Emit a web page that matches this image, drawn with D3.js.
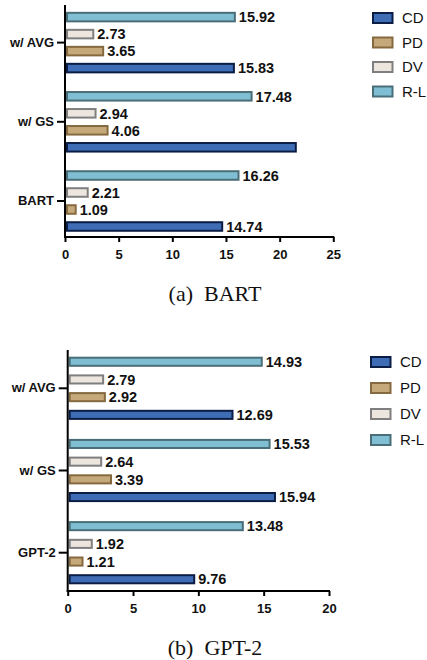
<!DOCTYPE html>
<html>
<head>
<meta charset="utf-8">
<script src="https://cdn.jsdelivr.net/npm/d3@7"></script>
<style>
  body { margin: 0; background: #fff; }
  text { font-family: 'Liberation Sans', Arial, sans-serif; }
  .caption { font-family: 'Liberation Serif', 'Times New Roman', serif; white-space: pre; }
</style>
</head>
<body>
<div id="chart"></div>
<script>
// Data
const series = ['CD', 'PD', 'DV', 'R-L']
const barOrder = ['R-L', 'DV', 'PD', 'CD'] // top to bottom inside a group

const bartGroups = ['w/ AVG', 'w/ GS', 'BART']
const bartCD = [15.83, 21.6, 14.74]
const bartPD = [3.65, 4.06, 1.09]
const bartDV = [2.73, 2.94, 2.21]
const bartRL = [15.92, 17.48, 16.26]
const bartTicks = [0, 5, 10, 15, 20, 25]
const bartUnlabeled = ['w/ GS|CD'] // no number printed next to this bar

const gpt2Groups = ['w/ AVG', 'w/ GS', 'GPT-2']
const gpt2CD = [12.69, 15.94, 9.76]
const gpt2PD = [2.92, 3.39, 1.21]
const gpt2DV = [2.79, 2.64, 1.92]
const gpt2RL = [14.93, 15.53, 13.48]
const gpt2Ticks = [0, 5, 10, 15, 20]
const gpt2Unlabeled = []

const fills = { 'CD': '#3f6db5', 'PD': '#c6a97b', 'DV': '#ede6de', 'R-L': '#80bfd3' }
const strokes = { 'CD': '#0b1d45', 'PD': '#85693f', 'DV': '#7f7f7f', 'R-L': '#4a6e78' }

const svg = d3
  .select('#chart')
  .append('svg')
  .attr('width', 427)
  .attr('height', 660)

function drawPanel (p) {
  const rows = []
  p.groups.forEach((g, i) => {
    series.forEach(s => {
      rows.push({ group: g, key: s, value: p.values[s][i] })
    })
  })

  const x = d3.scaleLinear().domain(d3.extent(p.ticks)).range([p.x0, p.x1])

  const y0 = d3.scaleBand().domain(p.groups).range([p.bandTop, p.bandBottom])
  const half = 2 * p.innerStep
  const y1 = d3
    .scaleBand()
    .domain(barOrder)
    .range([y0.bandwidth() / 2 - half, y0.bandwidth() / 2 + half])
    .paddingInner(p.innerPad)
    .paddingOuter(p.innerPad / 2)

  const g = svg.append('g')

  // bars
  g.selectAll('rect.bar')
    .data(rows)
    .enter()
    .append('rect')
    .attr('class', 'bar')
    .attr('x', x(0) + 2)
    .attr('y', d => y0(d.group) + y1(d.key) + 1)
    .attr('width', d => x(d.value) - x(0) - 3)
    .attr('height', y1.bandwidth() - 2)
    .attr('fill', d => fills[d.key])
    .attr('stroke', d => strokes[d.key])
    .attr('stroke-width', 2)

  // value labels
  g.selectAll('text.val')
    .data(rows.filter(d => !p.unlabeled.includes(d.group + '|' + d.key)))
    .enter()
    .append('text')
    .attr('class', 'val')
    .attr('x', d => x(d.value) + 3)
    .attr('y', d => y0(d.group) + y1(d.key) + y1.bandwidth() / 2)
    .attr('dy', '0.36em')
    .attr('font-size', 14.5)
    .attr('font-weight', 'bold')
    .attr('fill', '#111')
    .text(d => d.value.toFixed(2))

  // x axis
  const xAxis = d3.axisBottom(x).tickValues(p.ticks).tickSize(5).tickSizeOuter(0).tickPadding(8)
  const xg = g.append('g')
    .attr('transform', 'translate(0,' + p.axisY + ')')
    .call(xAxis)
  xg.select('.domain').remove()
  xg.selectAll('.tick line').attr('stroke', '#000').attr('stroke-width', 2)
  xg.selectAll('.tick text')
    .attr('font-size', 13)
    .attr('font-weight', 'bold')
    .attr('font-family', "'Liberation Sans', Arial, sans-serif")
    .attr('fill', '#111')
  g.append('line')
    .attr('x1', x.range()[0] - 1)
    .attr('x2', x.range()[1] + 1)
    .attr('y1', p.axisY)
    .attr('y2', p.axisY)
    .attr('stroke', '#000')
    .attr('stroke-width', 2)

  // y axis
  const yAxis = d3.axisLeft(y0).tickSize(p.yTick).tickPadding(3)
  const yg = g.append('g')
    .attr('transform', 'translate(' + x(0) + ',0)')
    .call(yAxis)
  yg.select('.domain').remove()
  yg.selectAll('.tick line').attr('stroke', '#000').attr('stroke-width', 2)
  yg.selectAll('.tick text')
    .attr('font-size', 13)
    .attr('font-weight', 'bold')
    .attr('font-family', "'Liberation Sans', Arial, sans-serif")
    .attr('fill', '#111')
  g.append('line')
    .attr('x1', x(0))
    .attr('x2', x(0))
    .attr('y1', p.axisTop)
    .attr('y2', p.axisY + 1)
    .attr('stroke', '#000')
    .attr('stroke-width', 2)

  // legend
  const lg = g.selectAll('g.leg')
    .data(series)
    .enter()
    .append('g')
    .attr('class', 'leg')
    .attr('transform', (d, i) => 'translate(' + p.legX + ',' + (p.legY + i * p.legStep) + ')')
  lg.append('rect')
    .attr('x', 1)
    .attr('y', -5)
    .attr('width', 19.5)
    .attr('height', 10)
    .attr('fill', d => fills[d])
    .attr('stroke', d => strokes[d])
    .attr('stroke-width', 2)
  lg.append('text')
    .attr('x', 30)
    .attr('dy', '0.36em')
    .attr('font-size', 15)
    .attr('fill', '#111')
    .text(d => d)

  // caption
  svg.append('text')
    .attr('class', 'caption')
    .attr('x', 215)
    .attr('y', p.captionY)
    .attr('text-anchor', 'middle')
    .attr('font-size', 22)
    .attr('fill', '#111')
    .text(p.caption)
}

drawPanel({
  groups: bartGroups,
  values: { 'CD': bartCD, 'PD': bartPD, 'DV': bartDV, 'R-L': bartRL },
  ticks: bartTicks,
  unlabeled: bartUnlabeled,
  x0: 65,
  x1: 333.3,
  bandTop: 3,
  bandBottom: 240.6,
  innerStep: 17,
  innerPad: 0.38,
  axisTop: 5,
  axisY: 237,
  yTick: 8,
  legX: 372,
  legY: 18,
  legStep: 24.5,
  caption: '(a)  BART',
  captionY: 301
})

drawPanel({
  groups: gpt2Groups,
  values: { 'CD': gpt2CD, 'PD': gpt2PD, 'DV': gpt2DV, 'R-L': gpt2RL },
  ticks: gpt2Ticks,
  unlabeled: gpt2Unlabeled,
  x0: 67.7,
  x1: 329,
  bandTop: 347.2,
  bandBottom: 593.8,
  innerStep: 17.7,
  innerPad: 0.43,
  axisTop: 350,
  axisY: 591,
  yTick: 9,
  legX: 370,
  legY: 362,
  legStep: 26,
  caption: '(b)  GPT-2',
  captionY: 655
})
</script>
</body>
</html>
